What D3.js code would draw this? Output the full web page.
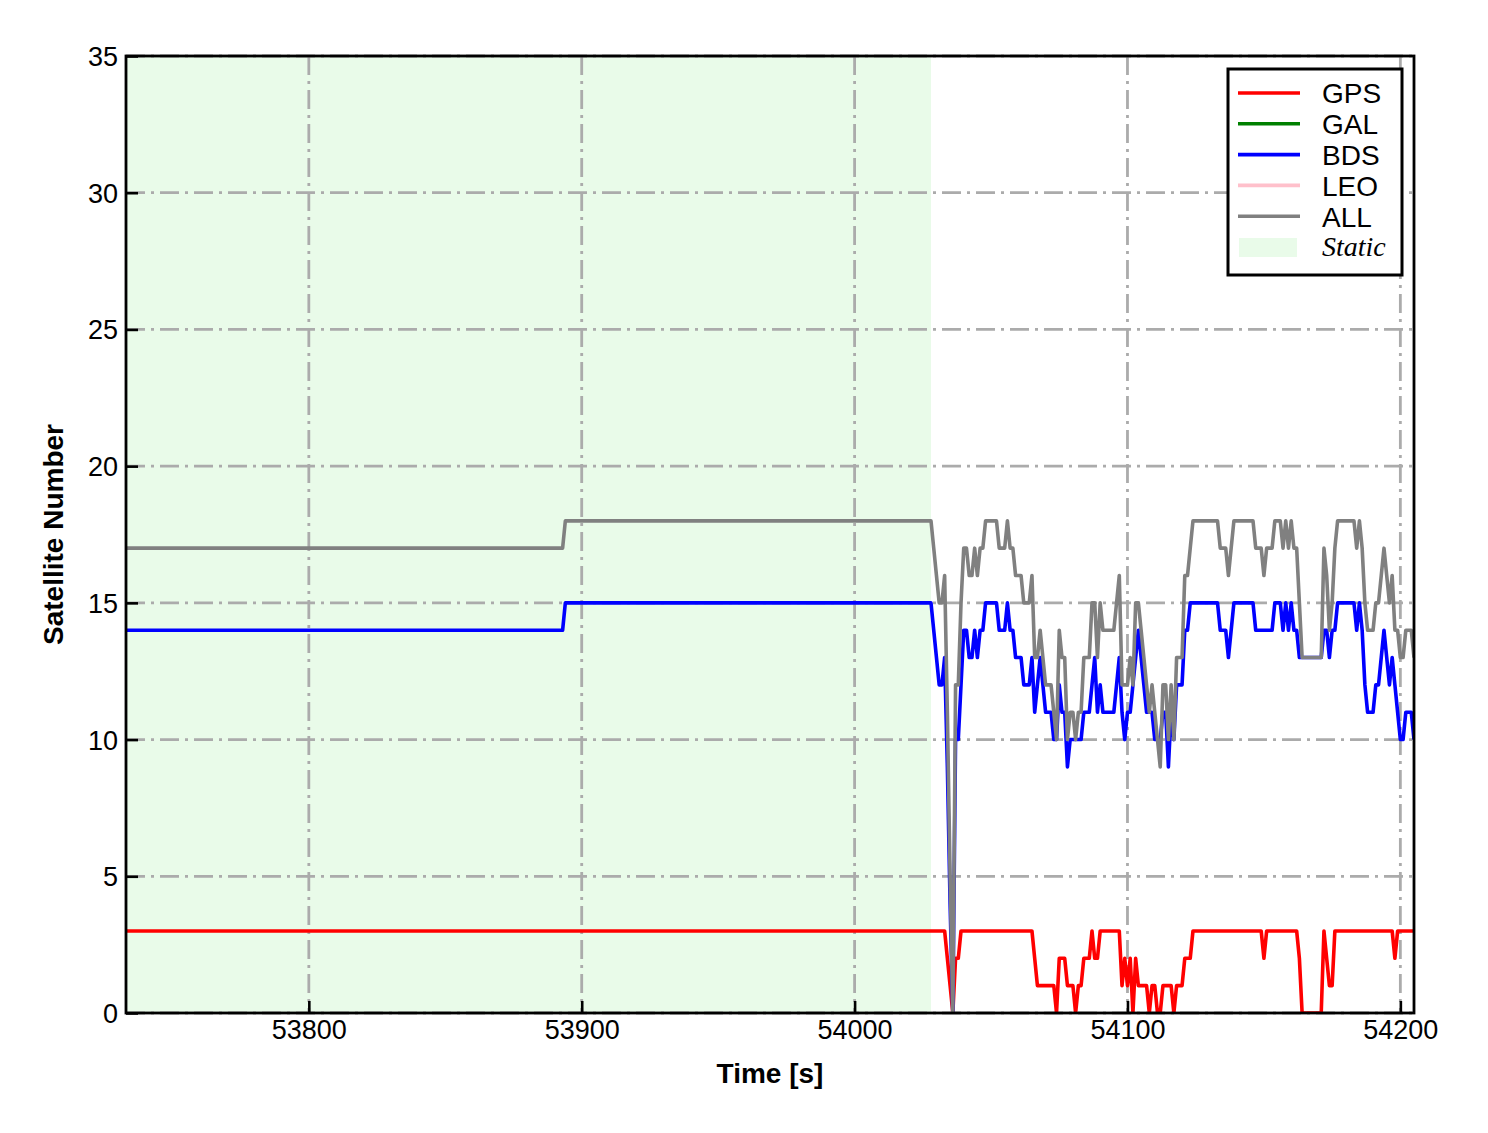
<!DOCTYPE html>
<html>
<head>
<meta charset="utf-8">
<script src="https://cdn.jsdelivr.net/npm/d3@7/dist/d3.min.js"></script>
<style>
  html, body { margin: 0; padding: 0; background: #ffffff; }
  svg { display: block; }
</style>
</head>
<body>
<svg id="chart" width="1488" height="1133"></svg>
<script>
// ---------------- data ----------------
const xTicks = [53800, 53900, 54000, 54100, 54200];
const yTicks = [0, 5, 10, 15, 20, 25, 30, 35];
const xDomain = [53733, 54205];
const yDomain = [0, 35];
const staticPeriod = [53733, 54028];

// static part: breakpoints [time, value]
const gpsStatic = [[53733, 3], [54027, 3]];
const bdsStatic = [[53733, 14], [53893, 14], [53894, 15], [54027, 15]];
const allStatic = [[53733, 17], [53893, 17], [53894, 18], [54027, 18]];

// kinematic part: one sample per second starting at dynStart
const dynStart = 54028;
const gpsDyn = [
  3,3,3,3,3,3,2,1,0,2,
  2,3,3,3,3,3,3,3,3,3,
  3,3,3,3,3,3,3,3,3,3,
  3,3,3,3,3,3,3,3,2,1,
  1,1,1,1,1,1,0,2,2,2,
  1,1,1,0,1,1,2,2,2,3,
  2,2,3,3,3,3,3,3,3,3,
  1,2,1,2,0,2,1,1,1,1,
  0,1,1,0,0,1,1,1,1,0,
  1,1,1,2,2,2,3,3,3,3,
  3,3,3,3,3,3,3,3,3,3,
  3,3,3,3,3,3,3,3,3,3,
  3,3,2,3,3,3,3,3,3,3,
  3,3,3,3,3,2,0,0,0,0,
  0,0,0,0,3,2,1,1,3,3,
  3,3,3,3,3,3,3,3,3,3,
  3,3,3,3,3,3,3,3,3,3,
  2,3,3,3,3,3,3,3
];
const bdsDyn = [
  15,14,13,12,12,13,9,4,0,10,
  10,12,14,14,13,13,14,13,14,14,
  15,15,15,15,15,14,14,14,15,14,
  14,13,13,13,12,12,12,13,11,12,
  13,12,11,11,11,10,10,12,11,11,
  9,10,10,10,10,10,11,11,11,12,
  13,11,12,11,11,11,11,11,12,13,
  11,10,11,11,12,13,14,13,12,11,
  11,11,10,10,10,11,11,9,11,10,
  12,12,12,14,14,15,15,15,15,15,
  15,15,15,15,15,15,14,14,14,13,
  14,15,15,15,15,15,15,15,15,14,
  14,14,14,14,14,14,15,15,15,14,
  15,14,15,14,14,13,13,13,13,13,
  13,13,13,13,14,14,13,14,14,15,
  15,15,15,15,15,15,14,15,14,12,
  11,11,11,12,12,13,14,13,12,13,
  12,11,10,10,11,11,11,10
];
const allDyn = [
  18,17,16,15,15,16,11,5,0,12,
  12,15,17,17,16,16,17,16,17,17,
  18,18,18,18,18,17,17,17,18,17,
  17,16,16,16,15,15,15,16,13,13,
  14,13,12,12,12,11,10,14,13,13,
  10,11,11,10,11,11,13,13,13,15,
  15,13,15,14,14,14,14,14,15,16,
  12,12,12,13,12,15,15,14,13,12,
  11,12,11,10,9,12,12,10,12,10,
  13,13,13,16,16,17,18,18,18,18,
  18,18,18,18,18,18,17,17,17,16,
  17,18,18,18,18,18,18,18,18,17,
  17,17,16,17,17,17,18,18,18,17,
  18,17,18,17,17,15,13,13,13,13,
  13,13,13,13,17,16,14,15,17,18,
  18,18,18,18,18,18,17,18,17,15,
  14,14,14,15,15,16,17,16,15,16,
  14,14,13,13,14,14,14,13
];

const seriesNames = ["GPS", "GAL", "BDS", "LEO", "ALL"];
const seriesColors = ["#ff0000", "#008000", "#0000ff", "#ffc0cb", "#808080"];

// ---------------- build ----------------
function build(stat, dyn) {
  return stat.concat(dyn.map((v, i) => [dynStart + i, v]));
}
const plotted = [
  { name: "GPS", data: build(gpsStatic, gpsDyn) },
  { name: "BDS", data: build(bdsStatic, bdsDyn) },
  { name: "ALL", data: build(allStatic, allDyn) }
];

const W = 1488, H = 1133;
const m = { left: 126, right: 1414, top: 56, bottom: 1013 };
const svg = d3.select("#chart");
svg.append("rect").attr("width", W).attr("height", H).attr("fill", "#ffffff");

const x = d3.scaleLinear().domain(xDomain).range([m.left, m.right]);
const y = d3.scaleLinear().domain(yDomain).range([m.bottom, m.top]);

const fontSans = "Arial, 'Liberation Sans', Helvetica, sans-serif";

// clip
svg.append("defs").append("clipPath").attr("id", "clip")
  .append("rect").attr("x", m.left).attr("y", m.top)
  .attr("width", m.right - m.left).attr("height", m.bottom - m.top);

// static shading
svg.append("rect")
  .attr("x", x(staticPeriod[0])).attr("y", m.top)
  .attr("width", x(staticPeriod[1]) - x(staticPeriod[0]))
  .attr("height", m.bottom - m.top)
  .attr("fill", "#e9fbe9");

// grid
const grid = svg.append("g").attr("stroke", "#ababab").attr("stroke-width", 2.8)
  .attr("stroke-dasharray", "19,6,3,6").attr("fill", "none");
yTicks.forEach(t => {
  grid.append("line").attr("x1", m.left).attr("x2", m.right)
    .attr("y1", y(t)).attr("y2", y(t));
});
xTicks.forEach(t => {
  grid.append("line").attr("x1", x(t)).attr("x2", x(t))
    .attr("y1", m.top).attr("y2", m.bottom);
});

// lines
const line = d3.line().x(d => x(d[0])).y(d => y(d[1])).curve(d3.curveLinear);
const gLines = svg.append("g").attr("clip-path", "url(#clip)");
plotted.forEach(s => {
  const c = seriesColors[seriesNames.indexOf(s.name)];
  gLines.append("path").datum(s.data)
    .attr("d", line)
    .attr("fill", "none")
    .attr("stroke", c)
    .attr("stroke-width", 3.6)
    .attr("stroke-linejoin", "round")
    .attr("stroke-linecap", "butt");
});

// axes (ticks inward)
const xAxis = d3.axisBottom(x).tickValues(xTicks).tickSize(-12).tickPadding(20).tickFormat(d3.format("d"));
const yAxis = d3.axisLeft(y).tickValues(yTicks).tickSize(-12).tickPadding(20).tickFormat(d3.format("d"));

const gx = svg.append("g").attr("transform", `translate(0,${m.bottom})`).call(xAxis);
const gy = svg.append("g").attr("transform", `translate(${m.left},0)`).call(yAxis);
[gx, gy].forEach(g => {
  g.select(".domain").remove();
  g.selectAll(".tick line").attr("stroke", "#000").attr("stroke-width", 2.6);
  g.selectAll(".tick text").attr("fill", "#000")
    .style("font-family", fontSans).style("font-size", "27px");
});
gx.selectAll(".tick text").attr("dy", "0.71em").attr("y", 7);
gy.selectAll(".tick text").attr("x", -8).attr("dy", "0.35em");

// frame
svg.append("rect").attr("x", m.left).attr("y", m.top)
  .attr("width", m.right - m.left).attr("height", m.bottom - m.top)
  .attr("fill", "none").attr("stroke", "#000").attr("stroke-width", 2.8);

// axis labels
svg.append("text").attr("x", (m.left + m.right) / 2).attr("y", 1076)
  .attr("text-anchor", "middle").attr("dominant-baseline", "middle")
  .style("font-family", fontSans).style("font-size", "28px").style("font-weight", "bold")
  .text("Time [s]");
svg.append("text")
  .attr("transform", `translate(56,${(m.top + m.bottom) / 2}) rotate(-90)`)
  .attr("text-anchor", "middle").attr("dominant-baseline", "middle")
  .style("font-family", fontSans).style("font-size", "28px").style("font-weight", "bold")
  .text("Satellite Number");

// legend
const lg = svg.append("g");
lg.append("rect").attr("x", 1228).attr("y", 69).attr("width", 174).attr("height", 206)
  .attr("fill", "#ffffff").attr("stroke", "#000").attr("stroke-width", 3);
const rowY = d3.scalePoint().domain(seriesNames.concat(["Static"])).range([93, 247]);
seriesNames.forEach((n, i) => {
  lg.append("line").attr("x1", 1238).attr("x2", 1300)
    .attr("y1", rowY(n)).attr("y2", rowY(n))
    .attr("stroke", seriesColors[i]).attr("stroke-width", 3.6);
  lg.append("text").attr("x", 1322).attr("y", rowY(n) + 3)
    .attr("dominant-baseline", "middle")
    .style("font-family", fontSans).style("font-size", "28px")
    .text(n);
});
lg.append("rect").attr("x", 1239).attr("y", rowY("Static") - 9).attr("width", 58).attr("height", 19)
  .attr("fill", "#e9fbe9");
lg.append("text").attr("x", 1322).attr("y", rowY("Static") + 3)
  .attr("dominant-baseline", "middle")
  .style("font-family", "'Times New Roman', 'Liberation Serif', serif")
  .style("font-style", "italic").style("font-size", "28px")
  .text("Static");
</script>
</body>
</html>
